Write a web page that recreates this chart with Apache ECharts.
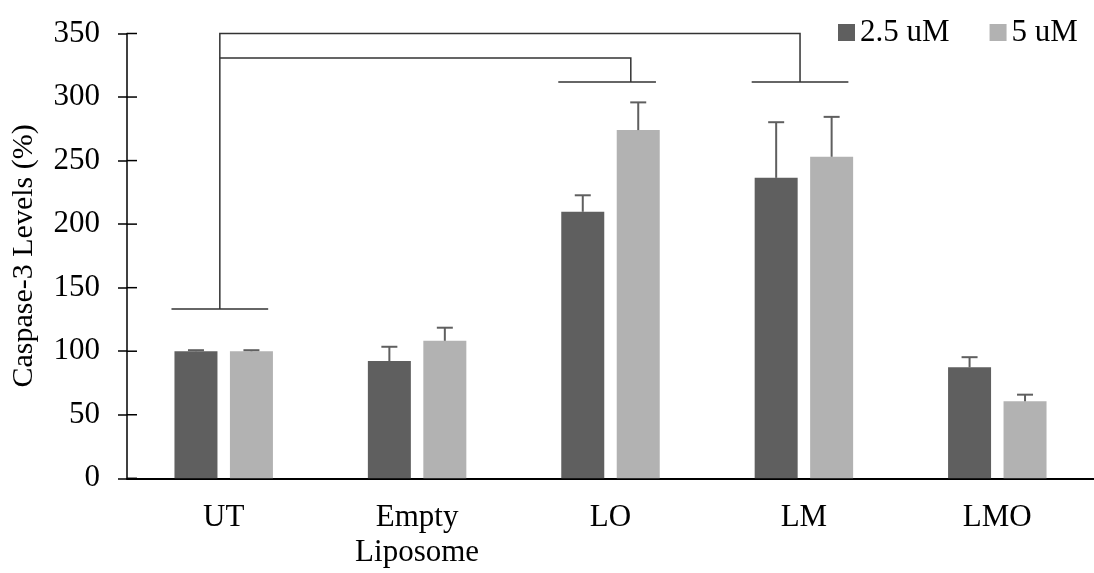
<!DOCTYPE html>
<html>
<head>
<meta charset="utf-8">
<script src="https://cdn.jsdelivr.net/npm/echarts@6/dist/echarts.min.js"></script>
<style>
  html, body { margin: 0; padding: 0; background: #fff; }
  #chart { width: 1094px; height: 573px; }
</style>
</head>
<body>
<div id="chart"></div>
<script>
// Caspase-3 levels by treatment, two doses
const categories = ['UT', 'Empty\nLiposome', 'LO', 'LM', 'LMO'];
const seriesNames = ['2.5 uM', '5 uM'];
const dose25 = [100, 92.3, 209.7, 236.4, 87.3];
const dose5 = [100, 108.2, 274.0, 253.0, 60.6];
const err25 = [0.8, 11.2, 13.0, 43.8, 8.0];
const err5 = [0.8, 10.3, 21.8, 31.4, 5.2];
const yTicks = [0, 50, 100, 150, 200, 250, 300, 350];

// Significance brackets: polylines in (category position, value)
const bracketSegments = [
  [[-0.02, 133.2], [-0.02, 350], [2.98, 350], [2.98, 311.9]],
  [[-0.02, 330.8], [2.105, 330.8], [2.105, 311.9]],
  [[-0.27, 133.2], [0.23, 133.2]],
  [[1.73, 311.9], [2.235, 311.9]],
  [[2.73, 311.9], [3.23, 311.9]]
];

const FONT = "'Liberation Serif', 'Times New Roman', serif";
const DARK = '#5f5f5f';
const LIGHT = '#b2b2b2';
const BAR_W = 43;
const BAR_GAP = 0.29;
const HALF_STEP = (BAR_W + BAR_W * BAR_GAP) / 2;
const INNER_TICK = 10;

function errorBars(values, errors, offset) {
  return {
    type: 'custom',
    xAxisIndex: 0,
    yAxisIndex: 0,
    z: 5,
    silent: true,
    data: categories.map((c, i) => [i, values[i], errors[i]]),
    renderItem: function (params, api) {
      const i = api.value(0);
      const base = api.coord([i, api.value(1)]);
      const top = api.coord([i, api.value(1) + api.value(2)]);
      const x = base[0] + offset;
      const style = { stroke: DARK, lineWidth: 2 };
      return {
        type: 'group',
        children: [
          { type: 'line', shape: { x1: x, y1: base[1], x2: x, y2: top[1] }, style: style },
          { type: 'line', shape: { x1: x - 8, y1: top[1], x2: x + 8, y2: top[1] }, style: style }
        ]
      };
    }
  };
}

const chart = echarts.init(document.getElementById('chart'));
chart.setOption({
  animation: false,
  backgroundColor: '#fff',
  textStyle: { fontFamily: FONT },
  legend: {
    data: seriesNames,
    left: 833,
    top: 12,
    icon: 'rect',
    itemWidth: 17,
    itemHeight: 17,
    itemGap: 40,
    textStyle: { fontFamily: FONT, fontSize: 31, color: '#000' }
  },
  grid: { left: 127, right: 0, top: 33.5, bottom: 94.7, containLabel: false },
  xAxis: [
    {
      type: 'category',
      data: categories,
      axisLine: { onZero: false, lineStyle: { color: '#000', width: 2 } },
      axisTick: { show: false },
      axisLabel: {
        color: '#000', fontFamily: FONT, fontSize: 31, lineHeight: 35, margin: 22, interval: 0
      }
    },
    { type: 'value', min: -0.5, max: 4.5, show: false }
  ],
  yAxis: {
    type: 'value',
    min: 0, max: 350, interval: 50,
    position: 'left',
    axisLine: { show: true, onZero: false, lineStyle: { color: '#000', width: 1.5 } },
    axisTick: { show: true, length: 9, lineStyle: { color: '#000', width: 1.5 } },
    splitLine: { show: false },
    axisLabel: {
      color: '#000', fontFamily: FONT, fontSize: 31, margin: 27,
      formatter: v => (yTicks.indexOf(v) >= 0 ? String(v) : '')
    },
    name: 'Caspase-3 Levels (%)',
    nameLocation: 'middle',
    nameGap: 88,
    nameTextStyle: { color: '#000', fontFamily: FONT, fontSize: 30 }
  },
  series: [
    {
      name: seriesNames[0], type: 'bar', data: dose25, barWidth: BAR_W,
      barGap: (BAR_GAP * 100) + '%', itemStyle: { color: DARK }, z: 2
    },
    {
      name: seriesNames[1], type: 'bar', data: dose5, barWidth: BAR_W,
      itemStyle: { color: LIGHT }, z: 2
    },
    errorBars(dose25, err25, -HALF_STEP),
    errorBars(dose5, err5, HALF_STEP),
    {
      // significance brackets, plus the inner half of each y tick so ticks cross the axis
      type: 'custom',
      xAxisIndex: 1,
      yAxisIndex: 0,
      silent: true,
      clip: false,
      z: 6,
      data: [[0]],
      renderItem: function (params, api) {
        const children = bracketSegments.map(seg => ({
          type: 'polyline',
          shape: { points: seg.map(p => api.coord(p)) },
          style: { stroke: '#333', lineWidth: 1.5, fill: null }
        }));
        yTicks.forEach(v => {
          const p = api.coord([-0.5, v]);
          children.push({
            type: 'polyline',
            shape: { points: [[p[0], p[1]], [p[0] + INNER_TICK, p[1]]] },
            style: { stroke: '#000', lineWidth: 1.5, fill: null }
          });
        });
        return { type: 'group', children: children };
      }
    }
  ]
});
</script>
</body>
</html>
